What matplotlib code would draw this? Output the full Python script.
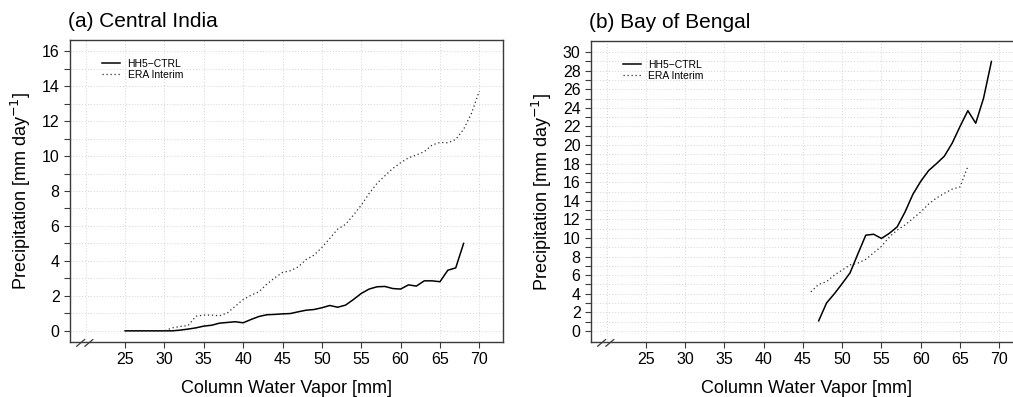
import matplotlib
matplotlib.use("Agg")
import matplotlib.pyplot as plt
import matplotlib.transforms as mtransforms
import numpy as np

# ---- data ----
cwv_ci_model = list(range(25, 69))
pr_ci_model = [0, 0, 0, 0, 0, 0, 0.0, 0.04, 0.1, 0.17, 0.27, 0.32, 0.44, 0.48, 0.52, 0.46,
               0.65, 0.82, 0.92, 0.94, 0.97, 0.99, 1.09, 1.18, 1.22, 1.32, 1.45, 1.35, 1.47,
               1.79, 2.14, 2.39, 2.52, 2.54, 2.42, 2.39, 2.63, 2.56, 2.86, 2.86, 2.81, 3.47,
               3.6, 5.0]
cwv_ci_era = list(range(25, 71))
pr_ci_era = [0, 0, 0, 0, 0, 0, 0.17, 0.25, 0.3, 0.84, 0.9, 0.9, 0.86, 1.03, 1.41, 1.79,
             2.04, 2.23, 2.67, 3.03, 3.34, 3.44, 3.66, 4.08, 4.33, 4.77, 5.29, 5.82, 6.09,
             6.62, 7.19, 7.86, 8.44, 8.87, 9.29, 9.62, 9.9, 10.06, 10.25, 10.63, 10.78,
             10.76, 10.95, 11.53, 12.44, 13.72]

cwv_bob_model = list(range(47, 70))
pr_bob_model = [1.08, 3.0, 4.0, 5.1, 6.25, 8.3, 10.3, 10.4, 9.95, 10.5, 11.2, 12.8, 14.7,
                16.1, 17.25, 18.0, 18.8, 20.2, 22.0, 23.7, 22.35, 25.05, 29.0]
cwv_bob_era = list(range(46, 67))
pr_bob_era = [4.2, 5.0, 5.3, 6.0, 6.55, 7.1, 7.3, 7.7, 8.4, 9.1, 10.1, 10.85, 11.4, 12.1,
              12.8, 13.65, 14.3, 14.8, 15.25, 15.5, 17.7]

xticks = list(range(25, 75, 5))
xgrid = list(range(20, 75, 5))
break_x = [19.35, 20.4]

plt.rcParams.update({
    "font.family": ["Liberation Sans", "DejaVu Sans"],
    "axes.edgecolor": "#3a3a3a",
    "xtick.color": "#3a3a3a",
    "ytick.color": "#3a3a3a",
    "xtick.labelcolor": "black",
    "ytick.labelcolor": "black",
})

fig = plt.figure(figsize=(10.13, 3.97), dpi=100)
ax1 = fig.add_axes([0.0691, 0.1385, 0.4274, 0.7607])
ax2 = fig.add_axes([0.5834, 0.1385, 0.4263, 0.7582])

panels = [
    (ax1, "(a) Central India", 16, (cwv_ci_model, pr_ci_model), (cwv_ci_era, pr_ci_era)),
    (ax2, "(b) Bay of Bengal", 30, (cwv_bob_model, pr_bob_model), (cwv_bob_era, pr_bob_era)),
]

for ax, title, ymax, mod, era in panels:
    # grid first so the curves sit on top
    for g in xgrid:
        ax.axvline(g, color="#d4d4d4", lw=0.7, ls=(0, (1, 2)), zorder=0)
    for g in range(0, ymax + 1):
        ax.axhline(g, color="#d4d4d4", lw=0.7, ls=(0, (1, 2)), zorder=0)

    ax.plot(mod[0], mod[1], color="black", lw=1.1, label="HH5\u2212CTRL")
    ax.plot(era[0], era[1], color="#2a2a2a", lw=0.9, ls=(0, (1, 2.2)), label="ERA Interim")

    ax.set_xlim(18, 73)
    ax.set_ylim(-0.04 * ymax, 1.04 * ymax)
    ax.set_xticks(xticks)
    ax.set_yticks(range(0, ymax + 1, 2))
    ax.set_yticks(range(1, ymax, 2), minor=True)
    ax.tick_params(axis="both", which="both", direction="out", length=4.5, width=0.8,
                   labelsize=11.5, pad=3)
    for s in ax.spines.values():
        s.set_linewidth(1.0)

    ax.set_xlabel("Column Water Vapor [mm]", fontsize=13, labelpad=9)
    ax.set_ylabel(r"Precipitation [mm day$^{-1}$]", fontsize=13, labelpad=6)
    ax.text(-0.005, 1.03, title, transform=ax.transAxes, fontsize=15,
            ha="left", va="bottom")

    ax.legend(loc="upper left", bbox_to_anchor=(0.062, 0.955), frameon=False,
              fontsize=7.5, handlelength=1.75, handletextpad=0.7, labelspacing=0.1,
              borderpad=0)

    # axis break marks on the bottom axis
    trans = mtransforms.blended_transform_factory(ax.transData, ax.transAxes)
    for bx in break_x:
        ax.plot([bx - 0.5, bx + 0.5], [-0.014, 0.008], color="#3a3a3a", lw=0.9,
                transform=trans, clip_on=False)

fig.savefig("out.png", dpi=100)
